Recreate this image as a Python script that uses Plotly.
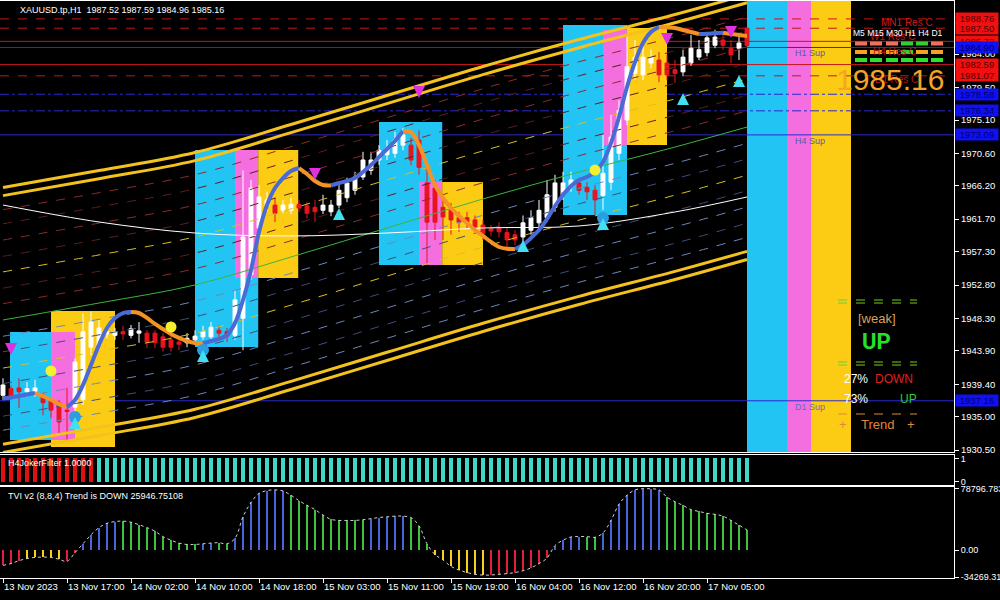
import plotly.graph_objects as go

# ---------------- data ----------------
bar_index = list(range(94))
opens = [1937.9,1938.8,1938.9,1938.4,1938.4,1937.9,1937.3,1936.9,1935.9,1936.3,
         1937.3,1944.4,1944.7,1946.2,1946.0,1946.5,1946.0,1946.3,1946.3,1946.3,
         1945.8,1945.4,1945.1,1945.0,1945.4,1945.8,1945.8,1946.7,1946.5,1946.0,
         1948.3,1954.2,1960.5,1963.5,1963.6,1962.9,1962.9,1963.7,1963.5,1963.3,
         1962.9,1962.7,1963.6,1964.6,1965.6,1967.4,1968.3,1969.7,1970.4,1970.6,
         1971.7,1971.7,1972.4,1966.6,1965.9,1963.3,1962.9,1961.9,1961.9,1961.6,
         1960.9,1960.4,1960.5,1959.9,1959.6,1959.3,1960.2,1961.2,1961.9,1963.3,
         1965.0,1966.1,1966.6,1966.0,1965.6,1964.9,1966.7,1970.6,1975.1,1981.4,
         1981.2,1982.8,1983.2,1982.8,1981.9,1981.6,1982.8,1983.6,1984.2,1985.2,
         1985.9,1984.8,1984.8,1987.52]
highs = [1940.2,1939.2,1940.2,1939.7,1940.0,1938.2,1937.5,1937.3,1938.9,1942.9,
         1949.0,1949.2,1948.1,1947.3,1947.0,1947.3,1947.4,1947.8,1946.7,1946.7,
         1946.3,1945.9,1945.6,1946.3,1946.7,1947.3,1947.8,1947.3,1947.0,1952.1,
         1968.3,1967.0,1966.3,1965.4,1964.6,1964.3,1964.6,1964.3,1964.0,1964.3,
         1965.0,1964.3,1966.3,1967.3,1968.1,1970.8,1970.8,1971.7,1972.4,1973.5,
         1974.0,1972.7,1973.7,1969.0,1967.0,1964.3,1963.9,1962.7,1962.7,1962.2,
         1961.6,1960.9,1961.3,1960.5,1960.2,1962.2,1962.9,1964.3,1967.0,1967.7,
         1968.1,1968.1,1967.3,1966.7,1966.3,1973.1,1975.8,1977.8,1986.6,1985.9,
         1985.2,1984.6,1984.3,1983.9,1983.2,1984.6,1986.6,1985.9,1986.9,1987.3,
         1986.9,1985.9,1986.6,1987.59]
lows = [1937.3,1937.3,1936.2,1937.7,1937.7,1935.2,1934.8,1932.5,1931.9,1935.7,
        1936.6,1943.3,1944.0,1945.6,1945.4,1945.4,1945.6,1945.0,1944.3,1944.3,
        1943.8,1943.8,1944.0,1944.4,1944.7,1945.4,1945.4,1945.6,1945.1,1945.4,
        1944.0,1953.5,1959.6,1962.7,1961.3,1962.5,1962.4,1962.7,1961.8,1961.3,
        1962.4,1962.1,1963.2,1964.0,1965.0,1967.0,1967.7,1969.0,1969.7,1970.0,
        1971.0,1969.0,1967.7,1955.5,1958.9,1958.9,1959.6,1960.0,1960.5,1960.0,
        1958.9,1959.4,1959.2,1957.8,1958.2,1958.6,1959.6,1960.5,1961.3,1962.7,
        1964.3,1965.4,1965.0,1964.3,1962.2,1962.9,1965.6,1969.7,1974.4,1980.5,
        1980.5,1982.1,1980.2,1980.5,1980.1,1981.0,1982.4,1983.2,1983.7,1984.8,
        1984.6,1982.8,1983.2,1984.96]
closes = [1939.3,1937.7,1938.4,1938.8,1938.9,1936.9,1935.9,1934.3,1935.7,1942.4,
          1946.5,1947.8,1947.0,1946.5,1946.5,1946.2,1946.9,1946.6,1945.1,1945.0,
          1944.4,1944.4,1944.8,1945.6,1945.9,1946.5,1947.1,1946.3,1945.9,1950.8,
          1959.3,1965.9,1964.7,1964.3,1962.5,1963.6,1963.7,1963.2,1962.5,1962.7,
          1963.6,1963.6,1965.6,1966.6,1967.4,1969.7,1969.7,1971.0,1971.3,1972.4,
          1973.1,1969.7,1968.7,1961.3,1961.3,1962.0,1961.6,1961.3,1961.3,1960.6,
          1959.8,1960.1,1960.0,1958.9,1958.9,1961.2,1961.9,1962.9,1965.0,1966.6,
          1966.6,1967.0,1965.6,1965.4,1964.3,1967.9,1972.8,1976.4,1982.3,1983.6,
          1983.6,1983.6,1981.2,1981.2,1981.4,1983.6,1984.8,1984.6,1986.2,1986.3,
          1985.2,1983.9,1985.5,1985.16]
smooth_line = [1937.5,1937.6,1937.8,1938.0,1938.2,1937.8,1937.3,1936.7,1936.3,1937.27,
               1939.30,1942.00,1944.70,1947.00,1948.35,1949.02,1949.16,1949.02,1948.35,1947.54,
               1946.86,1946.19,1945.65,1945.24,1944.97,1944.90,1945.24,1945.51,1946.05,1947.67,
               1950.78,1954.83,1959.97,1963.61,1965.91,1967.26,1968.21,1968.61,1967.80,1966.86,
               1966.32,1966.25,1966.59,1966.86,1967.26,1968.07,1969.02,1970.10,1971.18,1972.26,
               1973.61,1973.48,1971.72,1969.02,1966.32,1964.56,1963.21,1962.13,1961.18,1960.24,
               1959.43,1958.62,1957.94,1957.70,1957.67,1958.21,1959.16,1960.24,1961.72,1963.48,
               1964.97,1966.18,1966.99,1967.40,1968.07,1969.42,1971.99,1975.50,1979.56,1982.93,
               1985.50,1986.99,1987.66,1987.60,1987.53,1987.26,1986.99,1986.72,1986.75,1986.85,
               1986.90,1986.72,1986.58,1986.45]

band_bars = [0, 12, 24, 36, 48, 60, 72, 84, 93]
band_center = [1948.08, 1950.37, 1952.81, 1956.59, 1960.51, 1964.43, 1968.07, 1971.45, 1974.15]
slow_ma = [1963.61, 1961.32, 1959.83, 1959.43, 1959.83, 1960.51, 1960.78, 1962.67, 1964.70]
band_offsets = [2.2, 4.3, 6.5, 8.6, 10.8, 13.0, 14.9]
outer_offsets = [16.8, 17.9]

level_prices = [1988.76, 1987.50, 1985.73, 1982.59, 1981.07, 1984.90, 1978.58, 1976.34, 1973.09, 1937.16]
level_kinds = ["res", "res", "res", "res", "res", "sup", "sup", "sup", "sup", "sup"]
level_dash = ["dash", "dash", "solid", "solid", "dash", "solid", "dashdot", "dashdot", "solid", "solid"]

zone_start = [0.875, 6.0, 6.0, 24.0, 29.0, 31.9, 47.0, 52.0, 54.9, 70.0, 75.0, 78.0, 93.0, 98.0, 101.0]
zone_end = [6.0, 14.0, 9.0, 31.9, 31.9, 36.9, 54.9, 54.9, 60.0, 78.0, 78.0, 83.0, 98.0, 101.0, 106.0]
zone_low = [1931.87, 1930.92, 1931.87, 1944.43, 1953.75, 1953.75, 1955.51, 1955.51, 1955.51,
            1962.26, 1971.72, 1971.72, None, None, None]
zone_high = [1946.45, 1949.29, 1946.45, 1971.04, 1971.04, 1971.04, 1974.83, 1966.72, 1966.72,
             1987.93, 1987.26, 1987.53, None, None, None]
zone_kind = ["c", "y", "p", "c", "p", "y", "c", "p", "y", "c", "p", "y", "c", "p", "y"]

sell_bars = [1, 39, 52, 83, 91]
sell_prices = [1943.35, 1966.99, 1978.07, 1985.23, 1986.18]
buy_bars = [9, 25, 42, 65, 75, 85, 92]
buy_prices = [1934.97, 1944.02, 1963.21, 1958.89, 1961.86, 1978.75, 1981.18]
dot_bars = [6, 21, 74]
dot_prices = [1941.19, 1947.13, 1968.34]

joker_state = ("dddddddddddd" + "uuuuuuuuuu" + "uuuuuuuuuu" + "uuuuuuuuuu" + "uuuuuuuuuu"
               + "uuuuuuuuuu" + "uuuuuuuuuu" + "uuuuuuuuuu" + "uuuuuuuuuu" + "uu")

tvi_values = [-19300, -17000, -13300, -10600, -9200, -8700, -9200, -11500, -14300, -3000,
              8300, 19800, 29000, 34500, 36800, 37300, 35900, 32700, 29000, 24400,
              17500, 12900, 9200, 7400, 7400, 8300, 9200, 9700, 8300, 15200,
              42800, 61200, 72700, 76400, 77300, 75900, 70400, 63500, 57500, 52000,
              45100, 39600, 38200, 38200, 38200, 39100, 40500, 41900, 42800, 43700,
              43700, 41900, 31300, 8300, -5500, -12400, -20700, -25300, -28500, -30800,
              -31700, -31700, -30800, -29900, -28500, -26200, -22500, -17000, -10100, 6000,
              12900, 17000, 17500, 17500, 16600, 22100, 38200, 58900, 70400, 77300,
              78796.783, 78700, 77300, 68000, 62100, 57500, 52000, 49700, 47300, 46000,
              43700, 38200, 32200, 25946.75]
tvi_state = ("rrr" + "yyyyy" + "rr" + "bbbbb" + "gggggggggg" + "bb" + "gg" + "bbbbbbb"
             + "gggggggggg" + "bbbbb" + "ggg" + "yyyyyyy" + "rrrrrrrr" + "bbbb" + "gg"
             + "bbbbbbbb" + "ggggggggggg")

price_ticks = [1930.50, 1935.00, 1939.40, 1943.90, 1948.30, 1952.80, 1957.30,
               1961.70, 1966.20, 1970.60, 1975.10, 1979.50, 1984.00]
time_tick_bars = [0, 8, 16, 24, 32, 40, 48, 56, 64, 72, 80, 88]
time_tick_labels = ["13 Nov 2023", "13 Nov 17:00", "14 Nov 02:00", "14 Nov 10:00",
                    "14 Nov 18:00", "15 Nov 03:00", "15 Nov 11:00", "15 Nov 19:00",
                    "16 Nov 04:00", "16 Nov 12:00", "16 Nov 20:00", "17 Nov 05:00"]
tvi_ticks = [78796.783, 0.0, -34269.31]
tvi_tick_text = ["78796.783", "0.00", "-34269.31"]

# ---------------- layout helpers ----------------
W, H = 1000, 600
ML, MR, MT, MB = 0, 46, 1, 22
PW = W - ML - MR
PH = H - MT - MB


def fx(px):
    return (px - ML) / PW


def fy(py):
    return (H - MB - py) / PH


FONT = "Liberation Sans"
CYAN, PINK, YEL = "#22c4f4", "#f46ee0", "#fccc14"
zone_colors = {"c": CYAN, "p": PINK, "y": YEL}

fig = go.Figure()

# envelope bands
for k, off in enumerate(band_offsets):
    yellow = abs(off - 6.5) < 0.01
    up_col = "#d8c020" if yellow else ("#8e2a2a" if k % 2 == 0 else "#5c2020")
    dn_col = "#d8c020" if yellow else ("#6c86bc" if k % 2 == 0 else "#3c5078")
    fig.add_trace(go.Scatter(x=band_bars, y=[c + off for c in band_center], mode="lines",
                             line=dict(color=up_col, width=1, dash="dash", shape="spline"),
                             hoverinfo="skip"))
    fig.add_trace(go.Scatter(x=band_bars, y=[c - off for c in band_center], mode="lines",
                             line=dict(color=dn_col, width=1, dash="dash", shape="spline"),
                             hoverinfo="skip"))
for off in outer_offsets:
    for sgn in (1, -1):
        fig.add_trace(go.Scatter(x=band_bars, y=[c + sgn * off for c in band_center], mode="lines",
                                 line=dict(color="#f4c21c", width=3, shape="spline"),
                                 hoverinfo="skip"))
fig.add_trace(go.Scatter(x=band_bars, y=band_center, mode="lines",
                         line=dict(color="#3cb43c", width=1, shape="spline"), hoverinfo="skip"))
fig.add_trace(go.Scatter(x=band_bars, y=slow_ma, mode="lines",
                         line=dict(color="#ffffff", width=1, shape="spline"), hoverinfo="skip"))

# candles
fig.add_trace(go.Candlestick(x=bar_index, open=opens, high=highs, low=lows, close=closes,
                             increasing=dict(line=dict(color="#ffffff", width=1), fillcolor="#ffffff"),
                             decreasing=dict(line=dict(color="#e8141e", width=1), fillcolor="#e8141e"),
                             whiskerwidth=0, hoverinfo="skip"))

# smoothed trend line coloured by direction
seg_start = 0
cur = None
runs = []
for i in range(len(smooth_line) - 1):
    col = "#4a6ad6" if smooth_line[i + 1] >= smooth_line[i] else "#f39326"
    if cur is None:
        cur = col
    elif col != cur:
        runs.append((seg_start, i, cur))
        seg_start, cur = i, col
runs.append((seg_start, len(smooth_line) - 1, cur))
for a, b, col in runs:
    fig.add_trace(go.Scatter(x=bar_index[a:b + 1], y=smooth_line[a:b + 1], mode="lines",
                             line=dict(color=col, width=4, shape="spline"), hoverinfo="skip"))

# signals
fig.add_trace(go.Scatter(x=dot_bars, y=dot_prices, mode="markers",
                         marker=dict(symbol="circle", size=11, color="#f4f030"), hoverinfo="skip"))
fig.add_trace(go.Scatter(x=[buy_bars[0], buy_bars[1], buy_bars[4]],
                         y=[buy_prices[0], buy_prices[1], buy_prices[4]], mode="markers",
                         marker=dict(symbol="circle", size=12, color="#2a9ee0"), hoverinfo="skip"))
fig.add_trace(go.Scatter(x=sell_bars, y=sell_prices, mode="markers",
                         marker=dict(symbol="arrow-down", size=12, color="#e030e0"), hoverinfo="skip"))
fig.add_trace(go.Scatter(x=buy_bars, y=buy_prices, mode="markers",
                         marker=dict(symbol="arrow-up", size=12, color="#40e0f0"), hoverinfo="skip"))

# H4 joker filter
fig.add_trace(go.Bar(x=bar_index, y=[1.0 for _ in joker_state],
                     marker=dict(color=["#e01010" if s == "d" else "#40d8c8" for s in joker_state],
                                 line=dict(width=0)),
                     width=0.6, xaxis="x2", yaxis="y2", hoverinfo="skip"))

# TVI histogram
tvi_cols = {"r": "#e0203c", "y": "#f8d020", "b": "#4866d8", "g": "#40c040"}
fig.add_trace(go.Bar(x=bar_index, y=tvi_values,
                     marker=dict(color=[tvi_cols[s] for s in tvi_state], line=dict(width=0)),
                     width=0.35, xaxis="x3", yaxis="y3", hoverinfo="skip"))
fig.add_trace(go.Scatter(x=bar_index, y=tvi_values, mode="lines", xaxis="x3", yaxis="y3",
                         line=dict(color="#d0d0d0", width=1, dash="dot", shape="spline"),
                         hoverinfo="skip"))

# ---------------- shapes ----------------
shapes = []
for s, e, lo, hi, k in zip(zone_start, zone_end, zone_low, zone_high, zone_kind):
    if lo is None:
        shapes.append(dict(type="rect", xref="x", yref="y domain", x0=s, x1=e, y0=0, y1=1,
                           fillcolor=zone_colors[k], line=dict(width=0), layer="below"))
    else:
        shapes.append(dict(type="rect", xref="x", yref="y", x0=s, x1=e, y0=lo, y1=hi,
                           fillcolor=zone_colors[k], line=dict(width=0), layer="below"))
for p, kind, dsh in zip(level_prices, level_kinds, level_dash):
    col = "#c41818" if kind == "res" else "#2a2ad0"
    shapes.append(dict(type="line", xref="paper", yref="y", x0=0, x1=1, y0=p, y1=p,
                       line=dict(color=col, width=1, dash=dsh), layer="below"))

# right info panel lines
for py_, col in [(300, "#78c828"), (303, "#78c828"), (362, "#78c828"), (365, "#78c828"),
                 (414, "#e08a30")]:
    shapes.append(dict(type="line", xref="paper", yref="paper", x0=fx(838), x1=fx(917),
                       y0=fy(py_), y1=fy(py_), line=dict(color=col, width=1, dash="dash")))

# timeframe signal chips
chip_x = [861, 876, 892, 907, 922, 937]
chip_rows = [(43.5, ["#f07060", "#f07060", "#f07060", "#30d030", "#30d030", "#f07060"]),
             (52, ["#f8a020", "#f8a020", "#f8a020", "#30d030", "#f8a020", "#f8a020"]),
             (60, ["#30e030"] * 6)]
for ry, cols in chip_rows:
    for cx, c in zip(chip_x, cols):
        shapes.append(dict(type="rect", xref="paper", yref="paper", x0=fx(cx - 6), x1=fx(cx + 6),
                           y0=fy(ry + 2), y1=fy(ry - 2), fillcolor=c, line=dict(width=0)))

# ---------------- annotations ----------------
ann = []


def txt(x, y, t, color, size=9, xanchor="left", bold=False, family=FONT):
    ann.append(dict(xref="paper", yref="paper", x=fx(x), y=fy(y), text=("<b>%s</b>" % t) if bold else t,
                    showarrow=False, xanchor=xanchor, yanchor="middle",
                    font=dict(color=color, size=size, family=family)))


txt(18, 10, "XAUUSD.tp,H1  1987.52 1987.59 1984.96 1985.16", "#ffffff", 9)
txt(6, 463, "H4JokerFilter 1.0000", "#ffffff", 9)
txt(6, 496, "TVI v2 (8,8,4) Trend is DOWN 25946.75108", "#ffffff", 9)

txt(935, 22, "MN1 Res C", "#d01818", 10, "right")
txt(918, 36, "W1 Res C", "#c01818", 10, "right")
txt(918, 51, "H4 Res C", "#b01818", 10, "right")
txt(920, 80, "D1 Res C", "#b01818", 10, "right")
txt(898, 33, "M5 M15 M30 H1 H4 D1", "#ffffff", 8.5, "center")
txt(890, 80, "1985.16", "#f4a428", 30, "center")
txt(793, 53, "H1 Sup", "#5a5aa8", 9)
txt(793, 141, "H4 Sup", "#5a5aa8", 9)
txt(793, 407, "D1 Sup", "#6a6ab8", 9)

txt(877, 318, "[weak]", "#d8a060", 13, "center")
txt(876, 341, "UP", "#28e028", 22, "center", bold=True, family="Roboto")
txt(842, 379, "27%", "#ffffff", 12)
txt(873, 379, "DOWN", "#e02020", 12)
txt(842, 399, "73%", "#ffffff", 12)
txt(898, 399, "UP", "#28d028", 12)
txt(843, 424, "+", "#e0883a", 13, "center")
txt(877, 424, "Trend", "#e0883a", 13, "center")
txt(911, 424, "+", "#e0883a", 13, "center")

# right-axis price labels for levels
for p, kind in zip(level_prices, level_kinds):
    if kind != "res":
        continue
    ann.append(dict(xref="paper", yref="y", x=1.0, y=p, text="%.2f" % p, showarrow=False,
                    xanchor="left", yanchor="middle", xshift=1, width=42, height=11, align="center",
                    bgcolor="#f01010", borderpad=0,
                    font=dict(color="#500000", size=9.5, family=FONT)))
for p, kind in zip(level_prices, level_kinds):
    if kind != "sup":
        continue
    ann.append(dict(xref="paper", yref="y", x=1.0, y=p, text="%.2f" % p, showarrow=False,
                    xanchor="left", yanchor="middle", xshift=1, width=42, height=11, align="center",
                    bgcolor="#1010f0", borderpad=0,
                    font=dict(color="#000070", size=9.5, family=FONT)))

# ---------------- layout ----------------
xr = [(ML - 3) / 8.0, (ML + PW - 3) / 8.0]
main_dom = [fy(452), 1.0]
jok_dom = [fy(485), fy(455)]
tvi_dom = [0.0, fy(487)]
axis_common = dict(showgrid=False, zeroline=False, showline=True, linecolor="#ffffff",
                   linewidth=1, mirror=True, automargin=False)

fig.update_layout(
    width=W, height=H, margin=dict(l=ML, r=MR, t=MT, b=MB),
    paper_bgcolor="#000000", plot_bgcolor="#000000", showlegend=False,
    font=dict(family=FONT, color="#ffffff", size=9),
    bargap=0,
    xaxis=dict(domain=[0, 1], range=xr, anchor="y", showticklabels=False, ticks="",
               rangeslider=dict(visible=False), **axis_common),
    xaxis2=dict(domain=[0, 1], range=xr, anchor="y2", matches="x", showticklabels=False,
                ticks="", **axis_common),
    xaxis3=dict(domain=[0, 1], range=xr, anchor="y3", matches="x", tickmode="array",
                tickvals=time_tick_bars, ticktext=time_tick_labels, ticks="outside", ticklen=4,
                tickcolor="#ffffff", ticklabelposition="outside right", tickangle=0,
                tickfont=dict(color="#ffffff", size=9.5, family=FONT), **axis_common),
    yaxis=dict(domain=main_dom, range=[1930.24, 1991.18], side="right", tickmode="array",
               tickvals=price_ticks, ticktext=["%.2f" % v for v in price_ticks],
               ticks="outside", ticklen=4, tickcolor="#ffffff",
               tickfont=dict(color="#ffffff", size=9.5, family=FONT), **axis_common),
    yaxis2=dict(domain=jok_dom, range=[-0.15, 1.15], side="right", tickmode="array",
                tickvals=[0, 1], ticktext=["0", "1"], ticks="outside", ticklen=4,
                tickcolor="#ffffff", tickfont=dict(color="#ffffff", size=9, family=FONT),
                **axis_common),
    yaxis3=dict(domain=tvi_dom, range=[-35500, 81000], side="right", tickmode="array",
                tickvals=tvi_ticks, ticktext=tvi_tick_text, ticks="outside", ticklen=4,
                tickcolor="#ffffff", tickfont=dict(color="#ffffff", size=9, family=FONT),
                **axis_common),
    shapes=shapes,
    annotations=ann,
)

fig.write_html("out.html", config={"displayModeBar": False},
               post_script="document.body.style.margin='0';document.body.style.background='#000';")
